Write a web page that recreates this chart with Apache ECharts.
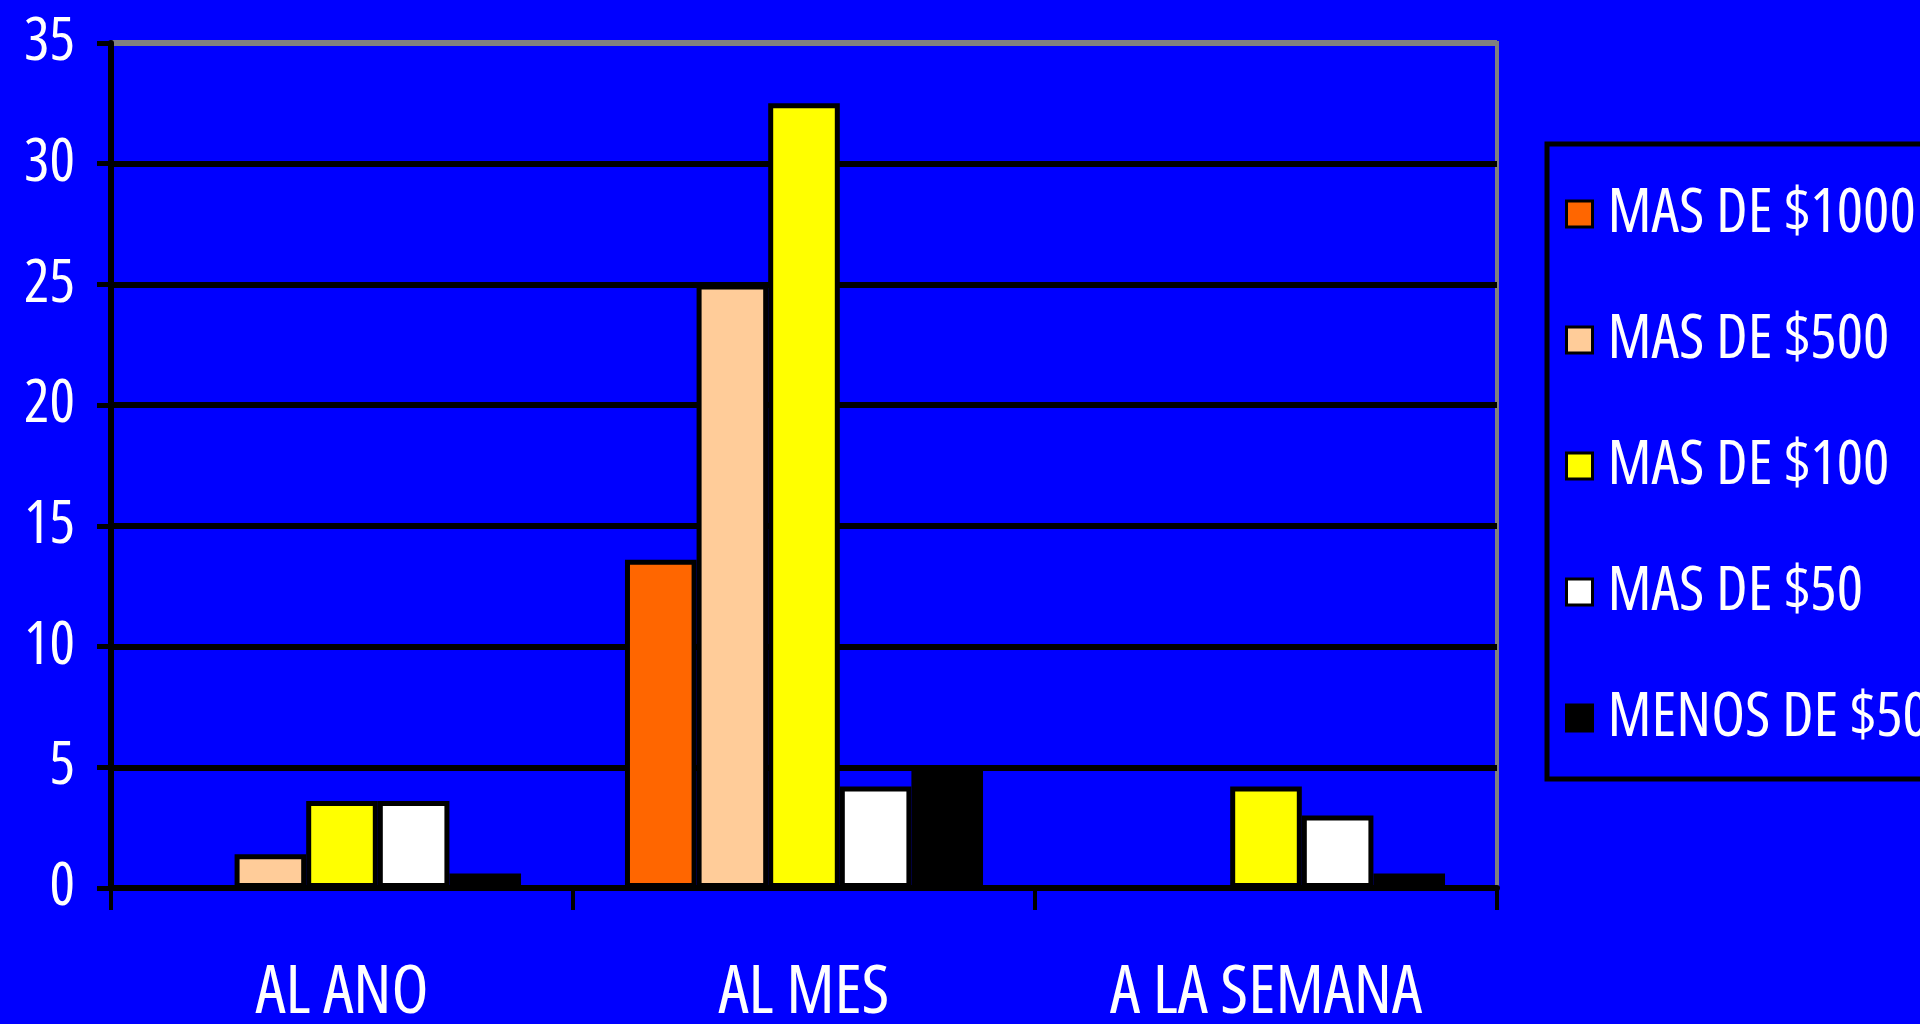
<!DOCTYPE html>
<html>
<head>
<meta charset="utf-8">
<style>
html,body{margin:0;padding:0;background:#0000FF;}
#chart{width:1920px;height:1024px;}
</style>
<script src="https://cdn.jsdelivr.net/npm/echarts@6/dist/echarts.min.js"></script>
</head>
<body>
<div id="chart"></div>
<script>
const categories = ['AL ANO', 'AL MES', 'A LA SEMANA'];
const seriesNames = ['MAS DE $1000', 'MAS DE $500', 'MAS DE $100', 'MAS DE $50', 'MENOS DE $50'];
const mas1000 = [0, 13.6, 0];
const mas500 = [1.4, 25, 0];
const mas100 = [3.6, 32.5, 4.2];
const mas50 = [3.6, 4.2, 3.0];
const menos50 = [0.6, 5, 0.6];
const yTicks = [0, 5, 10, 15, 20, 25, 30, 35];
const colors = ['#FF6600', '#FFCC99', '#FFFF00', '#FFFFFF', '#000000'];

const FONT = "'Open Sans', 'Liberation Sans', Arial, sans-serif";
const STRETCH = 'condensed';
const seriesData = [mas1000, mas500, mas100, mas50, menos50];

const chart = echarts.init(document.getElementById('chart'), null, {renderer: 'canvas'});
chart.setOption({
  backgroundColor: '#0000FF',
  animation: false,
  grid: {
    left: 111, right: 423, top: 43, bottom: 136,
    outerBoundsMode: 'none',
    containLabel: false,
    show: true, borderColor: '#808080', borderWidth: 4, backgroundColor: 'transparent'
  },
  legend: {
    orient: 'vertical',
    left: 1547, top: 144,
    padding: [39, 300, 30, 18],
    itemGap: 64,
    itemWidth: 26, itemHeight: 26,
    icon: 'rect',
    borderColor: '#000', borderWidth: 5,
    itemStyle: {borderColor: '#000', borderWidth: 3},
    textStyle: {color: '#fff', fontFamily: FONT, fontStyle: STRETCH, fontSize: 62, lineHeight: 62, padding: [0, 0, 0, 10]},
    data: seriesNames
  },
  xAxis: {
    type: 'category',
    data: categories,
    axisLine: {show: true, lineStyle: {color: '#000', width: 6}},
    axisTick: {show: true, length: 22, lineStyle: {color: '#000', width: 4}},
    axisLabel: {color: '#fff', fontFamily: FONT, fontStyle: STRETCH, fontSize: 68, margin: 72, interval: 0}
  },
  yAxis: {
    type: 'value',
    min: 0, max: 35, interval: 5,
    axisLine: {show: true, lineStyle: {color: '#000', width: 6}},
    axisTick: {show: true, length: 14, lineStyle: {color: '#000', width: 5}},
    axisLabel: {color: '#fff', fontFamily: FONT, fontStyle: STRETCH, fontSize: 60, margin: 36,
      formatter: v => yTicks.includes(v) ? String(v) : ''},
    splitLine: {show: true, lineStyle: {color: ['#000','#000','#000','#000','#000','#000','#000','#808080'], width: 6}}
  },
  series: seriesNames.map((name, i) => ({
    name: name,
    type: 'bar',
    data: seriesData[i],
    barGap: '0%',
    barCategoryGap: '22.5%',
    itemStyle: {color: colors[i], borderColor: '#000', borderWidth: 5}
  }))
});
</script>
</body>
</html>
